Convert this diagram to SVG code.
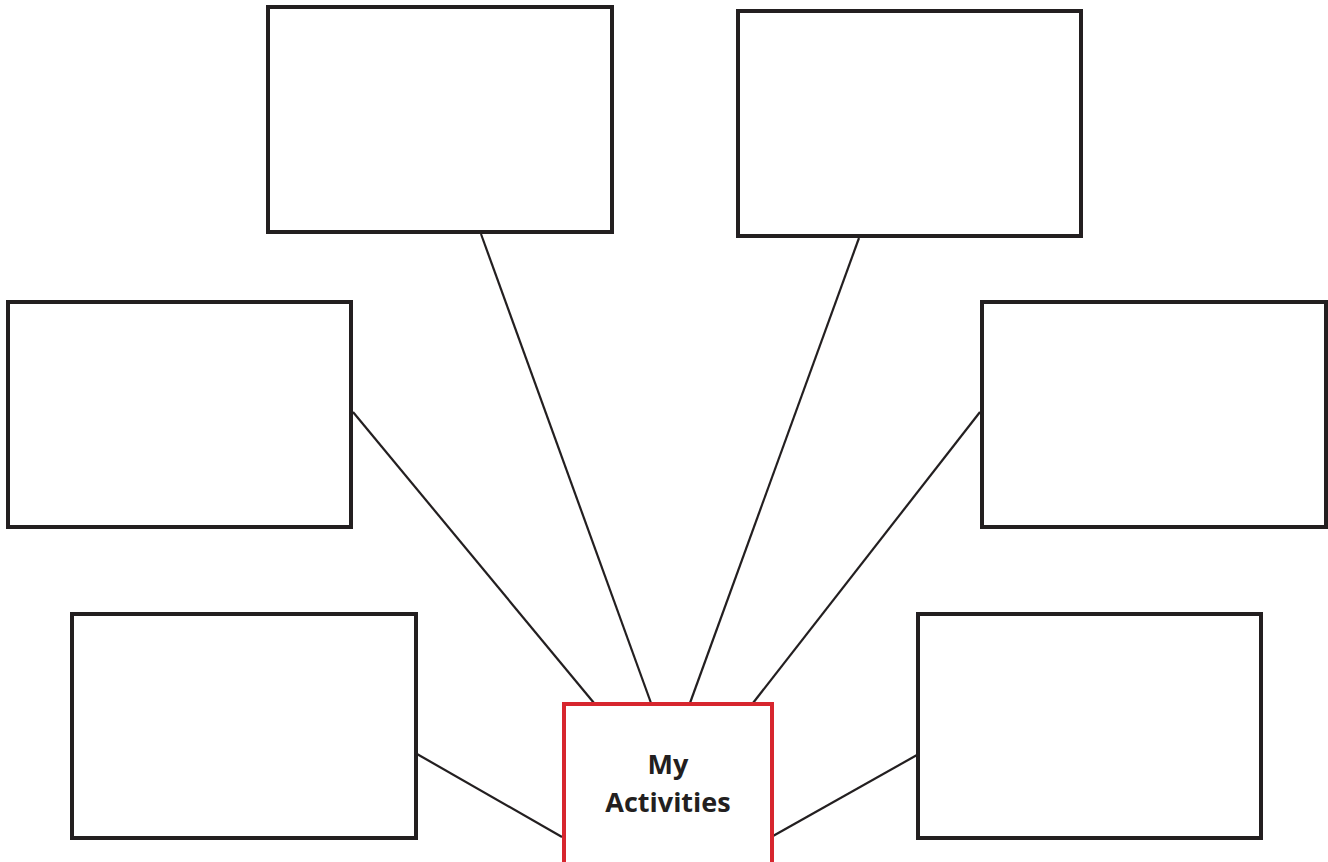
<svg xmlns="http://www.w3.org/2000/svg" width="1328" height="862" viewBox="0 0 1328 862">
<style>
.box{fill:#fff;stroke:#231f20;stroke-width:4}
.center{fill:#fff;stroke:#d7262e;stroke-width:4}
.conn line{stroke:#231f20;stroke-width:2.2}
.lbl{font-family:"Open Sans","Liberation Sans",sans-serif;font-weight:700;font-size:27px;fill:#231f20;text-anchor:middle}
</style>
<rect width="1328" height="862" fill="#fff"/>
<g id="connectors" class="conn">
<line x1="353" y1="412" x2="594" y2="703"/>
<line x1="481" y1="234" x2="651" y2="703"/>
<line x1="859" y1="238" x2="690" y2="703"/>
<line x1="980" y1="412" x2="753" y2="703"/>
<line x1="417" y1="754" x2="562" y2="837"/>
<line x1="773" y1="836" x2="917" y2="755"/>
</g>
<g id="box-top-left"><rect class="box" x="268" y="7" width="344" height="225"/></g>
<g id="box-top-right"><rect class="box" x="738" y="11" width="343" height="225"/></g>
<g id="box-mid-left"><rect class="box" x="8" y="302" width="343" height="225"/></g>
<g id="box-mid-right"><rect class="box" x="982" y="302" width="344" height="225"/></g>
<g id="box-bottom-left"><rect class="box" x="72" y="614" width="344" height="224"/></g>
<g id="box-bottom-right"><rect class="box" x="918" y="614" width="343" height="224"/></g>
<g id="center">
<rect class="center" x="564" y="704" width="208" height="170"/>
<text class="lbl" x="668" y="774">My</text>
<text class="lbl" x="668" y="812">Activities</text>
</g>
</svg>
